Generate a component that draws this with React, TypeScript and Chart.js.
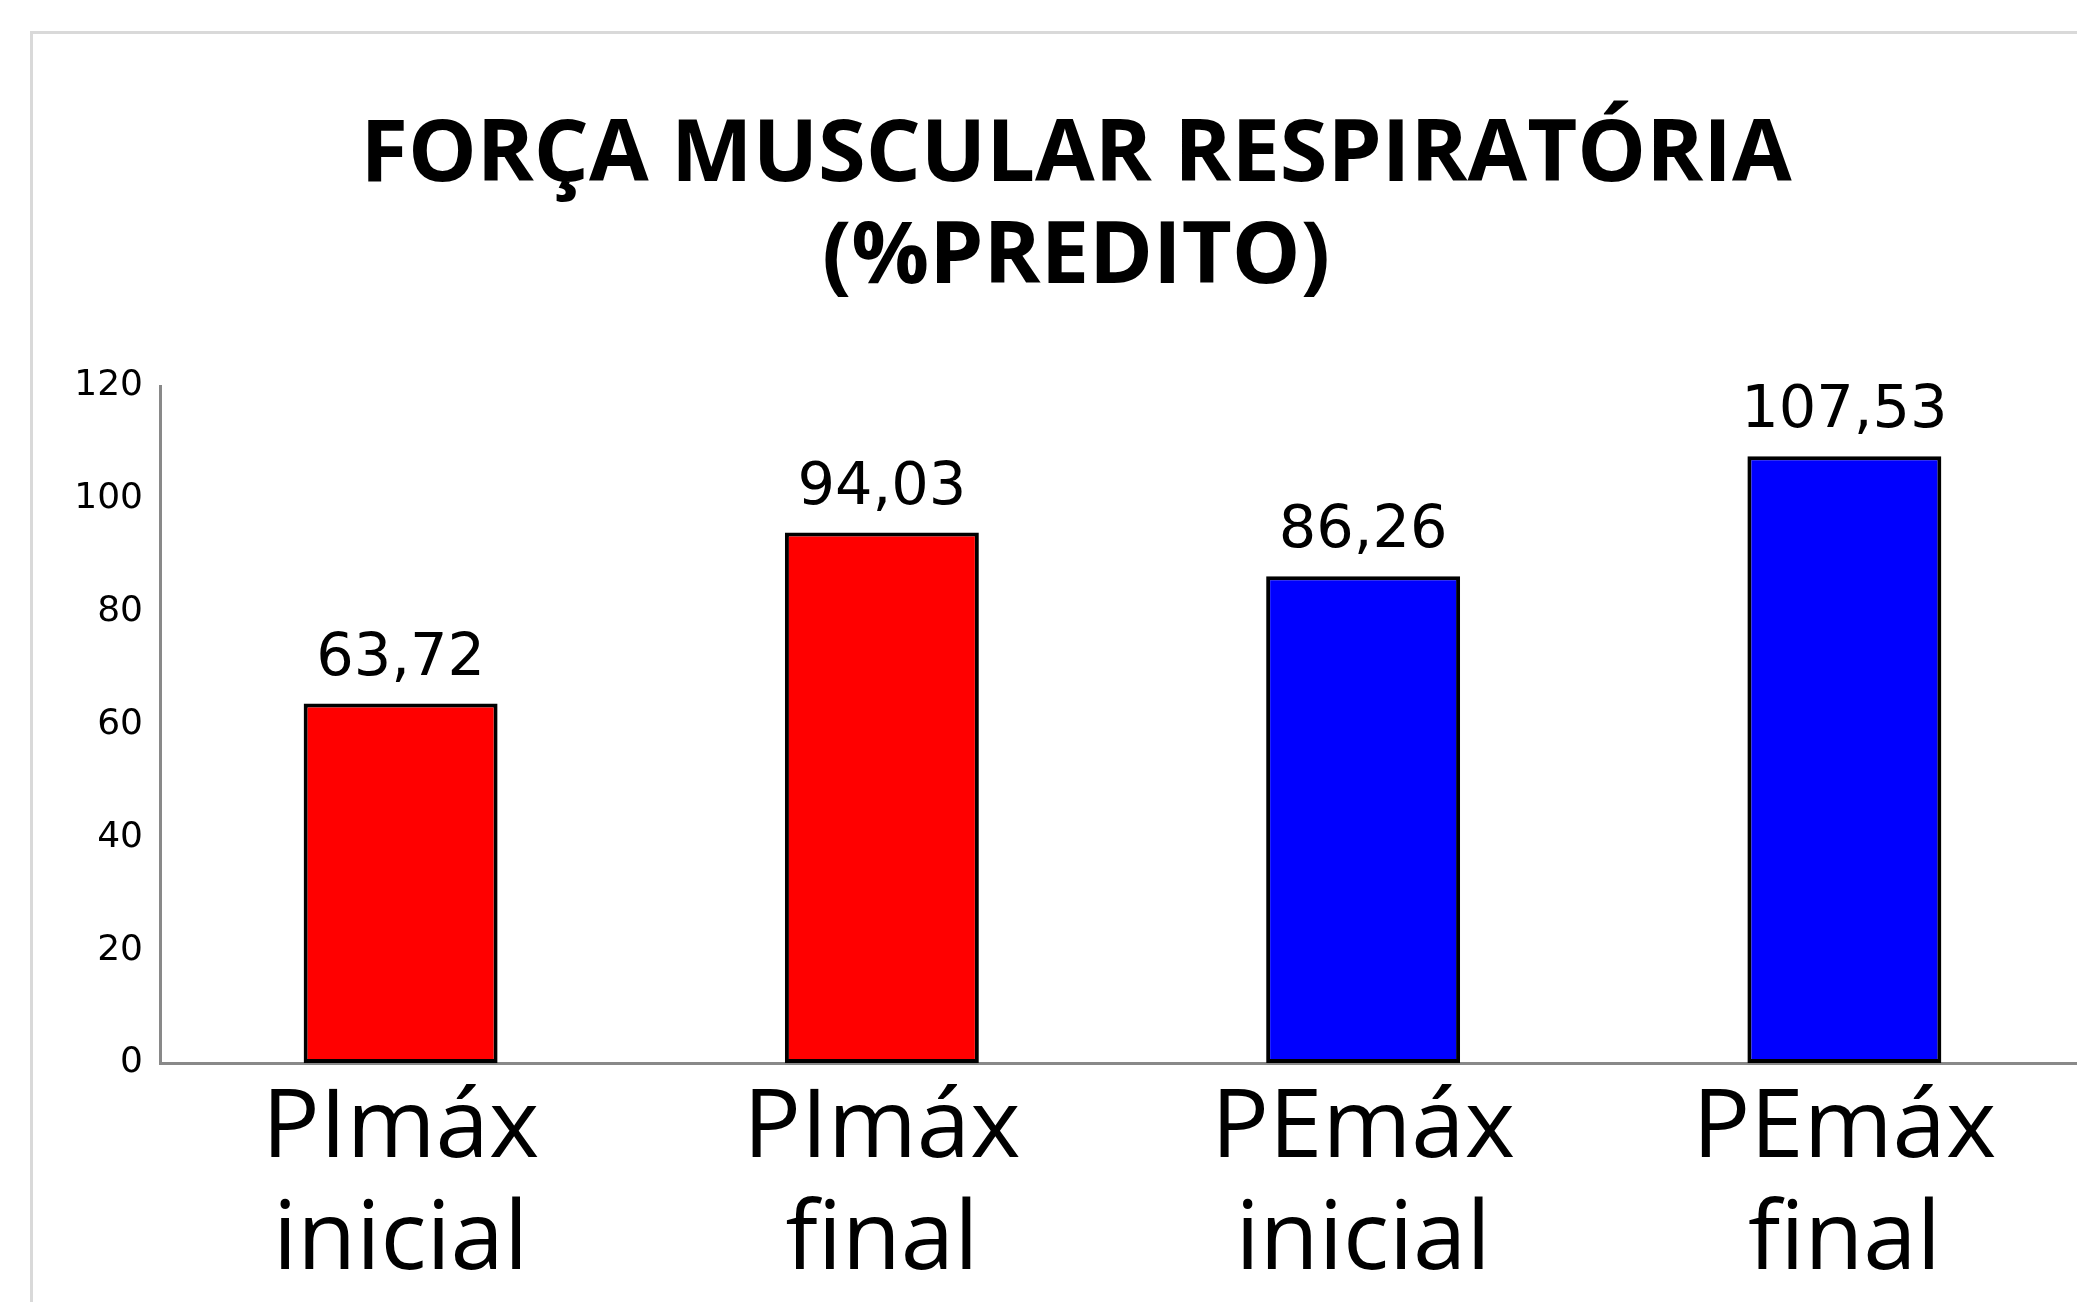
import React, { useEffect, useRef } from "react";
import { Chart, registerables } from "chart.js";

Chart.register(...registerables);

const categories: string[][] = [
  ["PImáx", "inicial"],
  ["PImáx", "final"],
  ["PEmáx", "inicial"],
  ["PEmáx", "final"],
];
const values: number[] = [63.72, 94.03, 86.26, 107.53];
const barColors: string[] = ["#ff0000", "#ff0000", "#0000ff", "#0000ff"];
const titleLines: string[] = ["FORÇA MUSCULAR RESPIRATÓRIA", "(%PREDITO)"];
const yMin = 0;
const yMax = 120;
const yStep = 20;

const valueLabelPlugin = {
  id: "valueLabels",
  afterDatasetsDraw(chart: any) {
    const ctx = chart.ctx;
    const meta = chart.getDatasetMeta(0);
    ctx.save();
    ctx.font = "59px 'DejaVu Sans'";
    ctx.fillStyle = "#000000";
    ctx.textAlign = "center";
    ctx.textBaseline = "alphabetic";
    meta.data.forEach((bar: any, i: number) => {
      const txt = values[i].toFixed(2).replace(".", ",");
      ctx.fillText(txt, bar.x, bar.y - 29);
    });
    ctx.restore();
  },
};

export default function App() {
  const canvasRef = useRef<HTMLCanvasElement | null>(null);

  useEffect(() => {
    if (!canvasRef.current) return;
    const chart = new Chart(canvasRef.current, {
      type: "bar",
      data: {
        labels: categories,
        datasets: [
          {
            data: values,
            backgroundColor: barColors,
            borderColor: "#000000",
            borderWidth: 4,
            borderSkipped: false,
            categoryPercentage: 1,
            barPercentage: 0.403,
          },
        ],
      },
      options: {
        animation: false,
        responsive: false,
        devicePixelRatio: 1,
        layout: { padding: { left: 34, right: 48, top: 0, bottom: 0 } },
        plugins: {
          legend: { display: false },
          tooltip: { enabled: false },
          title: {
            display: true,
            text: titleLines,
            color: "#000000",
            font: { family: "'Open Sans'", size: 86.5, weight: "bold", lineHeight: 1.185 },
            padding: { top: 71, bottom: 76 },
          },
        },
        scales: {
          x: {
            grid: { display: false, drawTicks: false },
            border: { display: true, color: "#898989", width: 3 },
            ticks: {
              color: "#000000",
              padding: 11,
              maxRotation: 0,
              autoSkip: false,
              font: { family: "'Open Sans'", size: 96, lineHeight: 1.167 },
            },
            afterFit: (scale: any) => {
              scale.height = 239;
            },
          },
          y: {
            min: yMin,
            max: yMax,
            grid: { display: false, drawTicks: false },
            border: { display: true, color: "#898989", width: 3 },
            ticks: {
              stepSize: yStep,
              color: "#000000",
              padding: 17,
              font: { family: "'DejaVu Sans'", size: 36 },
            },
            afterFit: (scale: any) => {
              scale.width = 93;
            },
          },
        },
      },
      plugins: [valueLabelPlugin],
    });
    return () => chart.destroy();
  }, []);

  return (
    <div
      style={{
        position: "fixed",
        left: 0,
        top: 0,
        width: 2077,
        height: 1302,
        overflow: "hidden",
        background: "#ffffff",
      }}
    >
      <div
        style={{
          position: "absolute",
          left: 30,
          top: 31,
          width: 3000,
          height: 2000,
          borderTop: "3px solid #d9d9d9",
          borderLeft: "3px solid #d9d9d9",
        }}
      >
        <canvas
          ref={canvasRef}
          width={2100}
          height={1268}
          style={{ position: "absolute", left: 0, top: 0, width: 2100, height: 1268 }}
        />
      </div>
    </div>
  );
}
